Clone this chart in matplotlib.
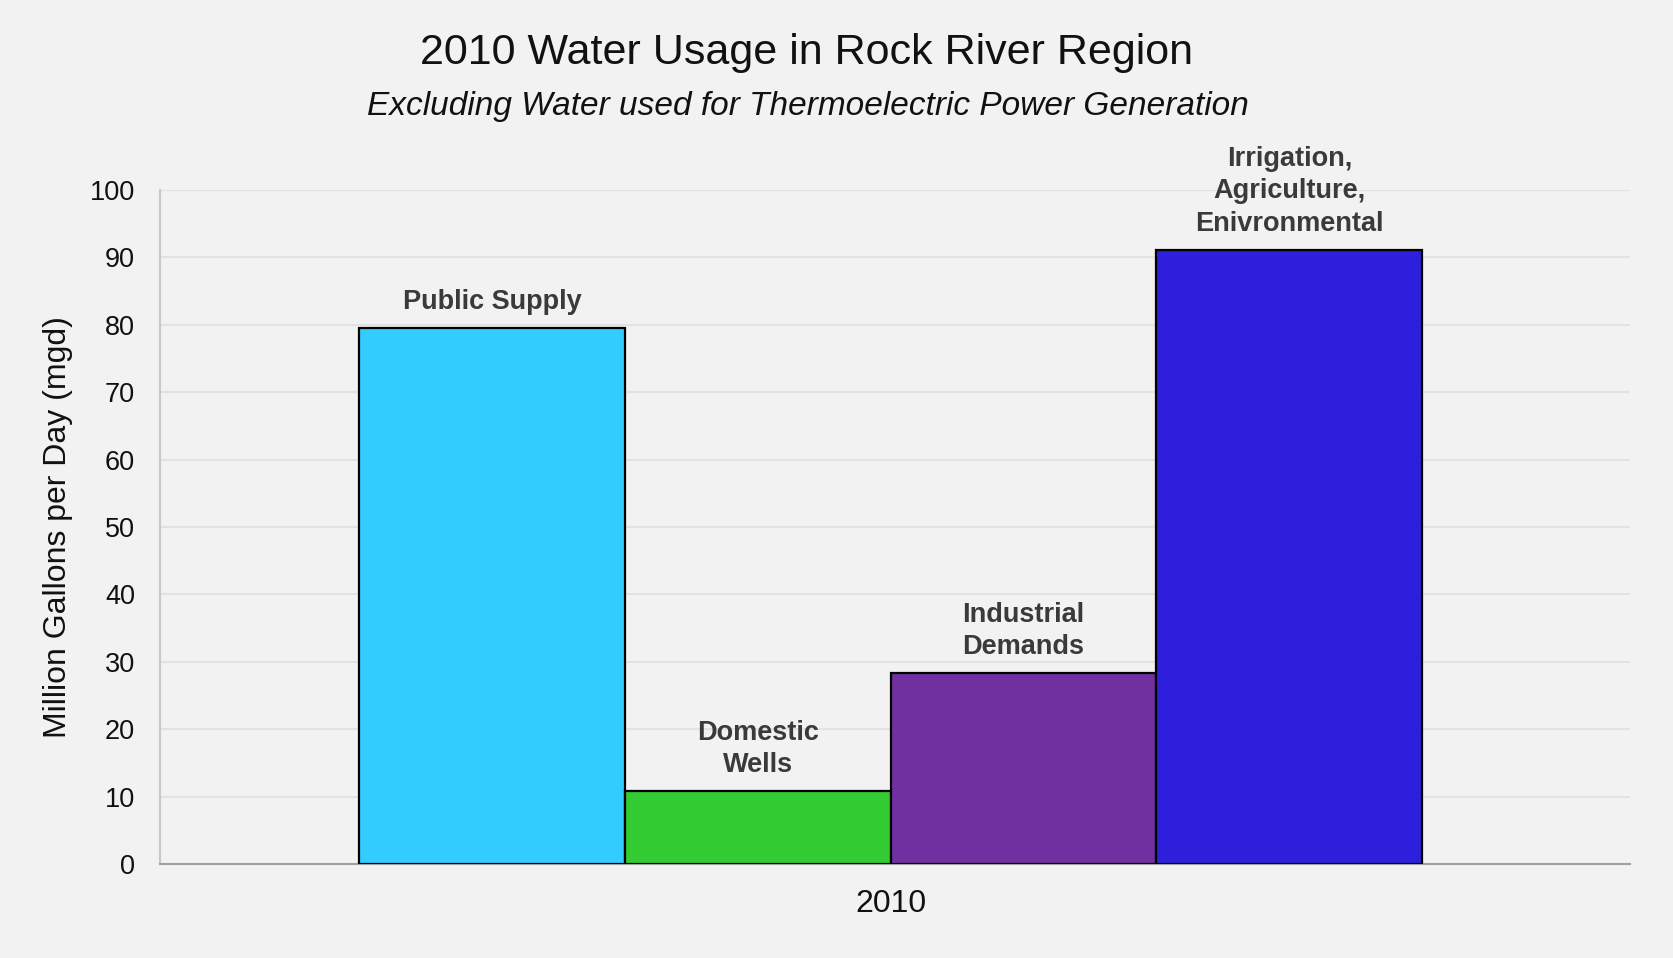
import numpy as np
import matplotlib.pyplot as plt

# 2010 withdrawals by use, million gallons per day
year = "2010"
uses = ["Public Supply", "Domestic\nWells", "Industrial\nDemands",
        "Irrigation,\nAgriculture,\nEnivronmental"]
mgd = [79.5, 10.8, 28.3, 91.1]
colors = ["#33ccff", "#33cc33", "#7030a0", "#2e1fdd"]
yticks = list(range(0, 101, 10))

plt.rcParams['font.family'] = ['Liberation Sans', 'DejaVu Sans']

fig = plt.figure(figsize=(16.73, 9.58), dpi=100, facecolor="#f2f2f2")
ax = fig.add_axes([0.0956, 0.0981, 0.8784, 0.7036])
ax.set_facecolor("#f2f2f2")

offsets = np.arange(len(mgd)) - (len(mgd) - 1) / 2
bars = ax.bar(offsets, mgd, width=1.0, color=colors, edgecolor="black",
              linewidth=1.6, zorder=3)

for b, lab in zip(bars, uses):
    ax.annotate(lab, (b.get_x() + b.get_width() / 2, b.get_height()),
                xytext=(0, 9.5), textcoords="offset points", ha="center",
                va="bottom", fontsize=19.5, fontweight="bold", color="#3a3a3a",
                linespacing=1.32)

ax.set_xlim(-2.75, 2.78)
ax.set_ylim(0, 100)
ax.set_yticks(yticks)
ax.set_xticks([0])
ax.set_xticklabels([year])
ax.tick_params(axis="both", length=0, labelsize=19.5, colors="#111111")
ax.tick_params(axis="x", labelsize=23, pad=18)
ax.tick_params(axis="y", pad=18)
ax.yaxis.grid(True, color="#e2e2e2", linewidth=1.5, zorder=0)
ax.set_axisbelow(True)

for s in ["top", "right"]:
    ax.spines[s].set_visible(False)
ax.spines["left"].set_color("#c8c8c8")
ax.spines["left"].set_linewidth(1.5)
ax.spines["bottom"].set_color("#a0a0a0")
ax.spines["bottom"].set_linewidth(1.5)

ax.set_ylabel("Million Gallons per Day (mgd)", fontsize=23, color="#111111",
              labelpad=12)

fig.text(0.482, 0.945, "2010 Water Usage in Rock River Region", ha="center",
         va="center", fontsize=31, color="#111111")
fig.text(0.483, 0.889, "Excluding Water used for Thermoelectric Power Generation",
         ha="center", va="center", fontsize=24, style="italic", color="#111111")

fig.savefig("out.png", dpi=100, facecolor=fig.get_facecolor())
